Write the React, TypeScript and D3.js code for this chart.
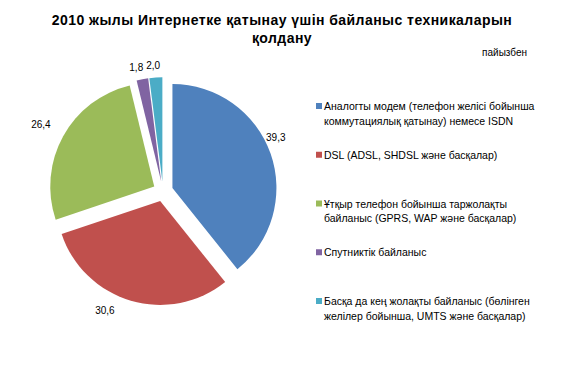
import React from "react";
import * as d3 from "d3";

const categories: string[][] = [
  ["Аналогты модем (телефон желісі бойынша", "коммутациялық қатынау) немесе ISDN"],
  ["DSL (ADSL, SHDSL және басқалар)"],
  ["Ұтқыр телефон бойынша таржолақты", "байланыс (GPRS, WAP және басқалар)"],
  ["Спутниктік байланыс"],
  ["Басқа да кең жолақты байланыс (бөлінген", "желілер бойынша, UMTS және басқалар)"],
];
const values: number[] = [39.3, 30.6, 26.4, 1.8, 2.0];
const valueLabels: string[] = ["39,3", "30,6", "26,4", "1,8", "2,0"];
const colors: string[] = ["#4F81BD", "#C0504D", "#9BBB59", "#8064A2", "#4BACC6"];
const titleLines: string[] = [
  "2010 жылы Интернетке қатынау үшін байланыс техникаларын",
  "қолдану",
];
const unitLabel = "пайызбен";

const W = 582;
const H = 377;
const cx = 163;
const cy = 191.3;
const R = 104;
const EXPLODE = 10;

// small manual nudges to mimic the original label placement
const labelNudge: [number, number][] = [
  [-8, -13],
  [-22, 0],
  [-10, -7],
  [-4, -2],
  [-2, -2],
];

export default function App() {
  const pie = d3
    .pie<number>()
    .sort(null)
    .value((d) => d)
    .startAngle(0)
    .endAngle(2 * Math.PI);
  const arcs = pie(values);
  const arcGen = d3.arc<d3.PieArcDatum<number>>().innerRadius(0).outerRadius(R);
  const font = "'Liberation Sans', Arial, sans-serif";

  return (
    <svg
      width={W}
      height={H}
      style={{ position: "absolute", left: 0, top: 0, background: "#fff" }}
      fontFamily={font}
    >
      <rect width={W} height={H} fill="#fff" />
      {titleLines.map((t, i) => (
        <text
          key={i}
          x={282}
          y={25 + i * 18}
          textAnchor="middle"
          fontSize={14}
          fontWeight="bold"
          letterSpacing={0.45}
          fill="#000"
        >
          {t}
        </text>
      ))}
      <text x={527} y={56} textAnchor="end" fontSize={10} fill="#000">
        {unitLabel}
      </text>
      {arcs.map((a, i) => {
        const mid = (a.startAngle + a.endAngle) / 2;
        const ux = Math.sin(mid);
        const uy = -Math.cos(mid);
        const ox = cx + ux * EXPLODE;
        const oy = cy + uy * EXPLODE;
        const tw = valueLabels[i].length * 5;
        const th = 12;
        const lx = ox + ux * (R + 4) + (ux * tw) / 2 + labelNudge[i][0];
        const ly = oy + uy * (R + 4) + (uy * th) / 2 + labelNudge[i][1];
        return (
          <g key={i}>
            <path
              d={arcGen(a) || ""}
              transform={`translate(${ox},${oy})`}
              fill={colors[i]}
            />
            <text
              x={lx}
              y={ly}
              textAnchor="middle"
              dominantBaseline="central"
              fontSize={10}
              fill="#000"
            >
              {valueLabels[i]}
            </text>
          </g>
        );
      })}
      {categories.map((lines, i) => {
        const y0 = 106 + i * 48.75;
        return (
          <g key={i}>
            <rect x={316} y={y0 - 3} width={6} height={6} fill={colors[i]} />
            {lines.map((l, j) => (
              <text
                key={j}
                x={324}
                y={y0 + j * 14.5}
                dominantBaseline="central"
                fontSize={10.5}
                fill="#000"
              >
                {l}
              </text>
            ))}
          </g>
        );
      })}
    </svg>
  );
}
